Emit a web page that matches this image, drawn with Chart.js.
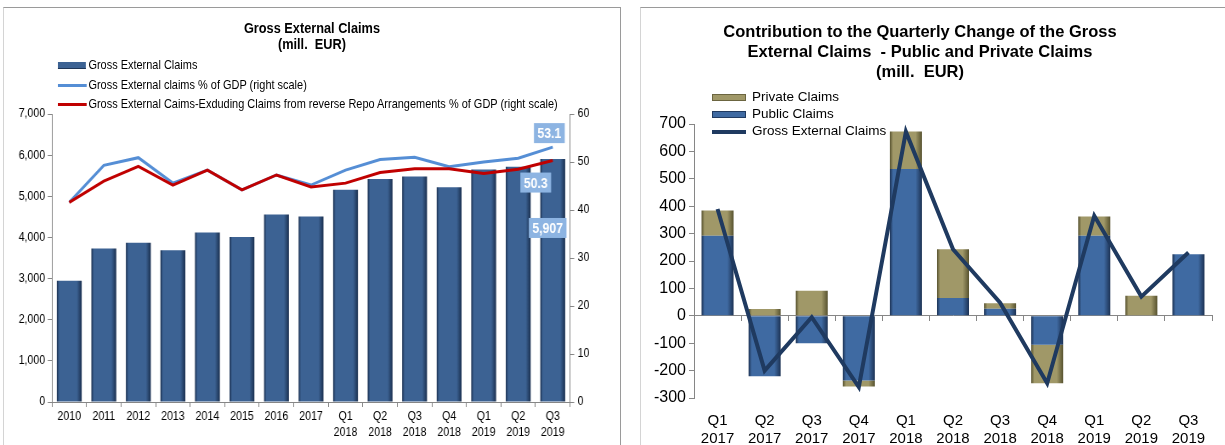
<!DOCTYPE html>
<html>
<head>
<meta charset="utf-8">
<script src="https://cdn.jsdelivr.net/npm/chart.js@4.4.1/dist/chart.umd.min.js"></script>
<style>
  body { margin: 0; width: 1225px; height: 445px; background: #fff; position: relative; overflow: hidden; font-family: 'Liberation Sans', Arial, sans-serif; }
  .panel { position: absolute; top: 7px; height: 460px; border: 1px solid #9a9a9a; border-left-color: #d4d4d4; background: #fff; }
  .box { position: absolute; }
  /* the left figure is horizontally squeezed, as in the source */
  .squeeze { position: absolute; left: 0; top: 0; width: 731px; height: 445px; transform: scaleX(0.85); transform-origin: 0 0; }
  .title { position: absolute; text-align: center; font-weight: bold; color: #000; }
  .leg { position: absolute; color: #000; white-space: nowrap; }
  .sw { position: absolute; }
</style>
</head>
<body>
<div class="panel" style="left:3px; width:616px;"></div>
<div class="panel" style="left:640px; width:600px;"></div>

<div class="squeeze">
  <canvas id="leftChart" width="731" height="445" style="position:absolute; left:0; top:0;"></canvas>
  <div class="title" style="left:217px; top:20px; width:300px; font:bold 15px 'Liberation Sans',Arial,sans-serif; line-height:16px;">Gross External Claims<br>(mill.&nbsp; EUR)</div>
  <div class="sw" style="left:68px; top:62px; width:33px; height:6px; background:#3c6293; border-bottom:1px solid #1e3556;"></div>
  <div class="leg" style="left:104px; top:57px; font:12.9px 'Liberation Sans',Arial,sans-serif;">Gross External Claims</div>
  <div class="sw" style="left:68px; top:84px; width:34px; height:3px; background:#558ed5;"></div>
  <div class="leg" style="left:104px; top:77px; font:12.9px 'Liberation Sans',Arial,sans-serif;">Gross External claims % of GDP (right scale)</div>
  <div class="sw" style="left:68px; top:103px; width:34px; height:3px; background:#c00000;"></div>
  <div class="leg" style="left:104px; top:96px; font:12.9px 'Liberation Sans',Arial,sans-serif;">Gross External Caims-Exduding Claims from reverse Repo Arrangements % of GDP (right scale)</div>
</div>

<div class="box" style="left:641px; top:0; width:584px; height:445px;"><canvas id="rightChart" width="584" height="445"></canvas></div>

<div class="title" style="left:690px; top:21px; width:460px; font:bold 16.5px 'Liberation Sans',Arial,sans-serif; line-height:20px;">Contribution to the Quarterly Change of the Gross<br>External Claims&nbsp; - Public and Private Claims<br>(mill.&nbsp; EUR)</div>
<div class="sw" style="left:712px; top:94px; width:34px; height:7px; background:#a09868; border:1px solid #6b6540; box-sizing:border-box;"></div>
<div class="leg" style="left:752px; top:89px; font:13.5px 'Liberation Sans',Arial,sans-serif;">Private Claims</div>
<div class="sw" style="left:712px; top:111px; width:34px; height:7px; background:#3f6aa2; border:1px solid #203a60; box-sizing:border-box;"></div>
<div class="leg" style="left:752px; top:106px; font:13.5px 'Liberation Sans',Arial,sans-serif;">Public Claims</div>
<div class="sw" style="left:712px; top:130px; width:34px; height:4px; background:#1f3a60;"></div>
<div class="leg" style="left:752px; top:123px; font:13.5px 'Liberation Sans',Arial,sans-serif;">Gross External Claims</div>

<script>
// --- Left chart data (mill. EUR and % of GDP) ---
const periods = ['2010', '2011', '2012', '2013', '2014', '2015', '2016', '2017',
    ['Q1', '2018'], ['Q2', '2018'], ['Q3', '2018'], ['Q4', '2018'],
    ['Q1', '2019'], ['Q2', '2019'], ['Q3', '2019']];
const grossClaims = [2950, 3730, 3870, 3690, 4120, 4010, 4560, 4510, 5160, 5420, 5480, 5220, 5650, 5720, 5907];
const claimsGdp = [41.6, 49.3, 50.9, 45.6, 48.3, 44.2, 47.3, 45.2, 48.3, 50.5, 51.0, 49.0, 50.0, 50.8, 53.1];
const claimsExRepoGdp = [41.6, 46.0, 49.1, 45.2, 48.3, 44.2, 47.3, 44.8, 45.6, 47.8, 48.6, 48.6, 47.6, 48.5, 50.3];

// --- Right chart data (quarterly change, mill. EUR) ---
const quarters = [['Q1', '2017'], ['Q2', '2017'], ['Q3', '2017'], ['Q4', '2017'],
    ['Q1', '2018'], ['Q2', '2018'], ['Q3', '2018'], ['Q4', '2018'],
    ['Q1', '2019'], ['Q2', '2019'], ['Q3', '2019']];
const publicClaims = [292, -221, -100, -236, 536, 65, 26, -106, 292, -2, 225];
const privateClaims = [92, 25, 91, -22, 137, 178, 20, -140, 70, 73, 0];
const grossChange = [390, -200, -5, -260, 672, 243, 48, -246, 365, 70, 231];

const font = "'Liberation Sans', Arial, sans-serif";
const axisGrey = '#868686';
const squeeze = 0.85;

// bevel-ish fill: dark edges, flat middle
function bevel(mid, dark) {
    return (c) => {
        const el = c.element;
        if (!el || !isFinite(el.x) || !el.width) return mid;
        const g = c.chart.ctx.createLinearGradient(el.x - el.width / 2, 0, el.x + el.width / 2, 0);
        g.addColorStop(0, dark);
        g.addColorStop(0.1, mid);
        g.addColorStop(0.8, mid);
        g.addColorStop(1, dark);
        return g;
    };
}

// value boxes on the last period of the left chart
const lastLabels = {
    id: 'lastLabels',
    afterDatasetsDraw(chart) {
        const c = chart.ctx;
        const i = grossClaims.length - 1;
        const items = [
            { ds: 1, text: claimsGdp[i].toFixed(1), dx: -4, dy: -14 },
            { ds: 2, text: claimsExRepoGdp[i].toFixed(1), dx: -20, dy: 22 },
            { ds: 0, text: grossClaims[i].toLocaleString('en-US'), dx: -6, dy: 69 }
        ];
        c.save();
        c.font = 'bold 14.5px ' + font;
        c.textAlign = 'center';
        c.textBaseline = 'middle';
        items.forEach(it => {
            const el = chart.getDatasetMeta(it.ds).data[i];
            const x = el.x + it.dx, y = el.y + it.dy;
            const w = c.measureText(it.text).width + 8;
            c.fillStyle = '#8db4e2';
            c.fillRect(x - w / 2, y - 10, w, 20);
            c.fillStyle = '#fff';
            c.fillText(it.text, x, y + 1);
        });
        c.restore();
    }
};

function initLeft() {
    const chart = new Chart(document.getElementById('leftChart'), {
        data: {
            labels: periods,
            datasets: [
                {
                    type: 'bar', label: 'Gross External Claims', data: grossClaims, yAxisID: 'y',
                    backgroundColor: bevel('#3c6293', '#1a2f4f'), borderWidth: 0,
                    barPercentage: 0.72, categoryPercentage: 1, order: 3
                },
                {
                    type: 'line', label: 'Gross External claims % of GDP (right scale)', data: claimsGdp, yAxisID: 'y2',
                    borderColor: '#558ed5', borderWidth: 3, pointRadius: 0, tension: 0, order: 2
                },
                {
                    type: 'line', label: 'Gross External Caims-Exduding Claims from reverse Repo Arrangements % of GDP (right scale)',
                    data: claimsExRepoGdp, yAxisID: 'y2',
                    borderColor: '#c00000', borderWidth: 3, pointRadius: 0, tension: 0, order: 1
                }
            ]
        },
        options: {
            responsive: false,
            animation: false,
            layout: { padding: { top: 114, left: 0, right: 0, bottom: 0 } },
            plugins: { legend: { display: false }, tooltip: { enabled: false } },
            scales: {
                x: {
                    grid: { drawOnChartArea: false, tickLength: 5, color: axisGrey },
                    border: { color: axisGrey },
                    ticks: { color: '#000', font: { family: font, size: 12.5, lineHeight: 1.25 }, padding: 2, maxRotation: 0, autoSkip: false },
                    afterFit: s => { s.height = 43; }
                },
                y: {
                    min: 0, max: 7000,
                    grid: { drawOnChartArea: false, tickLength: 5, color: axisGrey },
                    border: { color: axisGrey },
                    ticks: { stepSize: 1000, color: '#000', font: { family: font, size: 12.5 }, padding: 3,
                        callback: v => v.toLocaleString('en-US') },
                    afterFit: s => { s.width = 52 / squeeze; }
                },
                y2: {
                    position: 'right', min: 0, max: 60,
                    grid: { drawOnChartArea: false, tickLength: 5, color: axisGrey },
                    border: { color: axisGrey },
                    ticks: { stepSize: 10, color: '#000', font: { family: font, size: 12.5 }, padding: 4 },
                    afterFit: s => { s.width = 731 - 570 / squeeze; }
                }
            }
        },
        plugins: [lastLabels]
    });
    chart.update('none');
}

function initRight() {
    const chart = new Chart(document.getElementById('rightChart'), {
        data: {
            labels: quarters,
            datasets: [
                {
                    type: 'line', label: 'Gross External Claims', data: grossChange, stack: 'line',
                    borderColor: '#1f3a60', borderWidth: 4, pointRadius: 0, tension: 0, order: 1
                },
                {
                    type: 'bar', label: 'Public Claims', data: publicClaims, stack: 'claims',
                    backgroundColor: bevel('#3f6aa2', '#1c3254'), borderWidth: 0,
                    barPercentage: 0.68, categoryPercentage: 1, order: 2
                },
                {
                    type: 'bar', label: 'Private Claims', data: privateClaims, stack: 'claims',
                    backgroundColor: bevel('#a09868', '#57522f'), borderWidth: 0,
                    barPercentage: 0.68, categoryPercentage: 1, order: 3
                }
            ]
        },
        options: {
            responsive: false,
            animation: false,
            layout: { padding: { top: 124, left: 0, right: 13, bottom: 0 } },
            plugins: { legend: { display: false }, tooltip: { enabled: false } },
            scales: {
                x: {
                    stacked: true,
                    grid: { display: false },
                    border: { display: false },
                    ticks: { color: '#000', font: { family: font, size: 15 }, padding: 6, maxRotation: 0, autoSkip: false },
                    afterFit: s => { s.height = 47; }
                },
                // zero line with tick marks, like the category axis crossing at 0
                xZero: {
                    type: 'category', labels: quarters, position: { y: 0 }, offset: true,
                    grid: { drawOnChartArea: false, tickLength: 5, color: axisGrey, offset: true },
                    border: { color: axisGrey },
                    ticks: { display: false }
                },
                y: {
                    stacked: true, min: -300, max: 700,
                    grid: { drawOnChartArea: false, tickLength: 5, color: axisGrey },
                    border: { color: axisGrey },
                    ticks: { stepSize: 100, color: '#000', font: { family: font, size: 16 }, padding: 3 },
                    afterFit: s => { s.width = 53; }
                }
            }
        }
    });
    chart.update('none');
}

initLeft();
initRight();
</script>
</body>
</html>
